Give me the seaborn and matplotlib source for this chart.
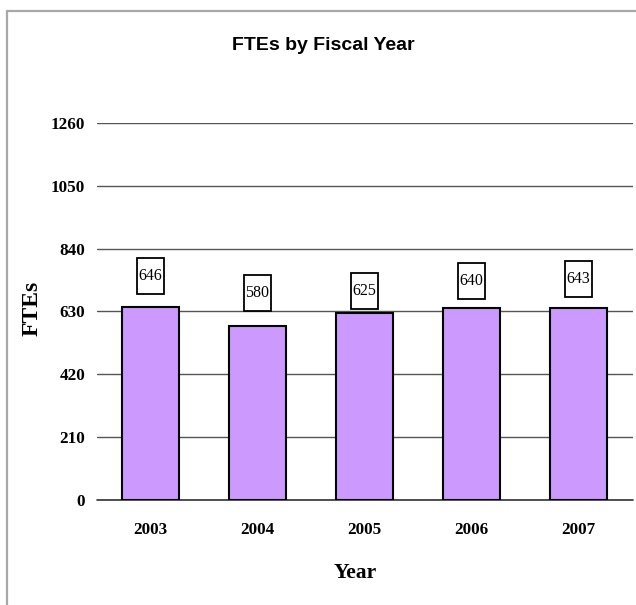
import pandas as pd
import matplotlib.pyplot as plt
import seaborn as sns
from matplotlib.lines import Line2D
from matplotlib.path import Path

years = ['2003', '2004', '2005', '2006', '2007']
ftes = [646, 580, 625, 640, 643]
yticks = [0, 210, 420, 630, 840, 1050, 1260]

# label boxes were placed by hand in the original, offsets in points
label_offsets = [22, 24, 16, 20, 20.5]

df = pd.DataFrame({'Year': years, 'FTEs': ftes})

sns.set_style('white')
plt.rcParams['font.family'] = ['Liberation Serif', 'DejaVu Serif']
plt.rcParams['text.color'] = 'black'
plt.rcParams['axes.labelcolor'] = 'black'
plt.rcParams['xtick.color'] = 'black'
plt.rcParams['ytick.color'] = 'black'


def tall_box(x0, y0, width, height, mutation_size):
    # narrow, tall box around the value label
    cx = x0 + width / 2
    cy = y0 + height / 2
    hw = 0.85 * mutation_size
    hh = 1.13 * mutation_size
    return Path([(cx - hw, cy - hh), (cx + hw, cy - hh), (cx + hw, cy + hh),
                 (cx - hw, cy + hh), (cx - hw, cy - hh)], closed=True)


fig = plt.figure(figsize=(6.36, 6.05), dpi=100)
ax = fig.add_axes([0.1525, 0.1736, 0.8428, 0.6231])

sns.barplot(data=df, x='Year', y='FTEs', color='#CC99FF', saturation=1,
            width=0.53, edgecolor='black', linewidth=1.5, ax=ax, zorder=3)

ax.set_ylim(0, 1260)
ax.set_yticks(yticks)
ax.set_xlim(-0.5, 4.51)
ax.yaxis.grid(True, color='#555555', linewidth=1)
ax.axhline(0, color='#333333', linewidth=1.2, clip_on=False, zorder=2)
ax.set_axisbelow(True)
for s in ax.spines.values():
    s.set_visible(False)
ax.tick_params(axis='both', length=0, labelsize=12.3)
ax.tick_params(axis='x', pad=16)
ax.tick_params(axis='y', pad=8.5)
for lab in ax.get_xticklabels() + ax.get_yticklabels():
    lab.set_fontweight('bold')

for i, v in enumerate(ftes):
    ax.annotate(str(v), (i, v), xytext=(0, label_offsets[i]), textcoords='offset points',
                ha='center', va='center', fontsize=11.5,
                bbox=dict(boxstyle=tall_box, fc='white', ec='black', lw=1.3))

ax.set_xlabel('Year', fontsize=15.5, fontweight='bold')
ax.xaxis.set_label_coords(0.481, -0.168)
ax.set_ylabel('FTEs', fontsize=17, fontweight='bold')
ax.yaxis.set_label_coords(-0.1007, 0.509)

fig.text(323 / 636, 1 - 45 / 605, 'FTEs by Fiscal Year', ha='center', va='center',
         fontsize=14, fontweight='bold', family=['Liberation Sans', 'DejaVu Sans'])

# outer frame (top and left edges visible)
fig.add_artist(Line2D([7 / 636, 1], [1 - 11 / 605, 1 - 11 / 605],
                      transform=fig.transFigure, color='#a8a8a8', lw=1.6))
fig.add_artist(Line2D([7 / 636, 7 / 636], [0, 1 - 11 / 605],
                      transform=fig.transFigure, color='#a8a8a8', lw=1.6))

fig.savefig('out.png', dpi=100)
